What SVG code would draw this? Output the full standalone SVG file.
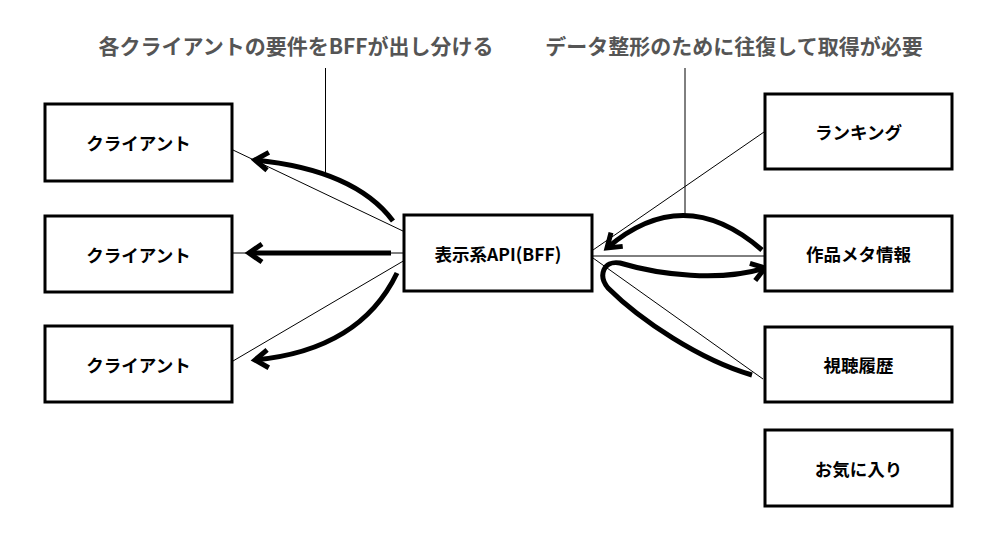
<svg xmlns="http://www.w3.org/2000/svg" width="1006" height="550" viewBox="0 0 1006 550">
<defs>
<style>
.box{fill:#fff;stroke:#000;stroke-width:3}
.lbl{font-family:"Noto Sans CJK JP","Noto Sans",sans-serif;font-weight:700;font-size:17.5px;fill:#000;text-anchor:middle;dominant-baseline:central}
.ttl{font-family:"Noto Sans CJK JP","Noto Sans",sans-serif;font-weight:700;font-size:21px;fill:#555;text-anchor:middle}
.thin{fill:none;stroke:#000;stroke-width:1}
.thick{fill:none;stroke:#000;stroke-width:5;stroke-linecap:butt}
.arr{marker-end:url(#ah)}
</style>
<marker id="ah" viewBox="-20 -15 30 30" markerWidth="30" markerHeight="30" refX="0" refY="0" orient="auto" markerUnits="userSpaceOnUse" overflow="visible">
<path d="M -13 -9 L 0 0 L -13 9" fill="none" stroke="#000" stroke-width="5"/>
</marker>
</defs>
<rect width="1006" height="550" fill="#fff"/>
<g id="titles">
<text class="ttl" x="296" y="54">各クライアントの要件をBFFが出し分ける</text>
<text class="ttl" x="734" y="54">データ整形のために往復して取得が必要</text>
</g>
<g id="connectors">
<line class="thin" x1="325.5" y1="68" x2="325.5" y2="174"/>
<line class="thin" x1="685" y1="68" x2="685" y2="215"/>
<line class="thin" x1="233" y1="150" x2="405" y2="232"/>
<line class="thin" x1="233" y1="253" x2="405" y2="253"/>
<line class="thin" x1="233" y1="361" x2="405" y2="260"/>
<line class="thin" x1="764" y1="132" x2="593" y2="250"/>
<line class="thin" x1="593" y1="256" x2="764" y2="256"/>
<line class="thin" x1="593" y1="258" x2="763" y2="379"/>
<path class="thick arr" d="M 393 221 Q 355 170 255 160"/>
<path class="thick arr" d="M 391 253 L 249 253"/>
<path class="thick arr" d="M 397 273 Q 360 350 255 360"/>
<path class="thick arr" d="M 762 250 Q 684 182 607 248"/>
<path class="thick arr" d="M 752 375 C 700 360, 640 320, 608 288 C 598 276, 603 260, 620 263 C 660 275, 720 282, 765 268"/>
</g>
<g id="client1"><rect class="box" x="45" y="104" width="187" height="77"/><text class="lbl" x="138.5" y="142.5">クライアント</text></g>
<g id="client2"><rect class="box" x="45" y="216" width="187" height="76"/><text class="lbl" x="138.5" y="254">クライアント</text></g>
<g id="client3"><rect class="box" x="45" y="326" width="187" height="76"/><text class="lbl" x="138.5" y="364">クライアント</text></g>
<g id="bff"><rect class="box" x="404" y="215" width="188" height="76"/><text class="lbl" x="498" y="253">表示系API(BFF)</text></g>
<g id="ranking"><rect class="box" x="765" y="94" width="187" height="75"/><text class="lbl" x="858.5" y="131.5">ランキング</text></g>
<g id="meta"><rect class="box" x="765" y="216" width="187" height="75"/><text class="lbl" x="858.5" y="253.5">作品メタ情報</text></g>
<g id="history"><rect class="box" x="765" y="327" width="187" height="75"/><text class="lbl" x="858.5" y="364.5">視聴履歴</text></g>
<g id="favorites"><rect class="box" x="765" y="430" width="187" height="76"/><text class="lbl" x="858.5" y="468">お気に入り</text></g>
</svg>
